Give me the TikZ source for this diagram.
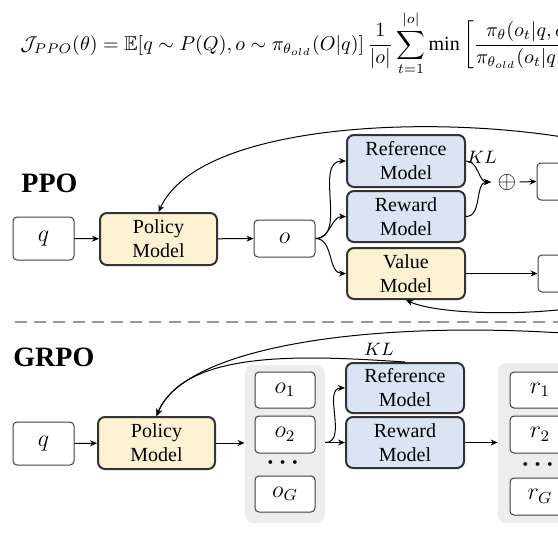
\documentclass[tikz,border=0pt]{standalone}
\usepackage{amsmath,amssymb}
\usepackage{fontspec}
\setmainfont{Liberation Serif}
\usetikzlibrary{arrows.meta}
\definecolor{blueM}{RGB}{218,228,242}
\definecolor{yellowM}{RGB}{252,241,208}
\definecolor{grpgray}{RGB}{237,237,237}
\definecolor{edge}{RGB}{50,50,55}
\tikzset{
  plainbox/.style={draw=black!75, fill=white, rounded corners=2pt, line width=0.5pt, inner sep=0pt, font=\fontsize{11.5}{14}\selectfont},
  modelbox/.style={draw=edge, rounded corners=3.5pt, line width=1pt, align=center, inner sep=0pt, font=\fontsize{10}{12}\selectfont, minimum width=59pt},
  bluebox/.style={modelbox, fill=blueM},
  yellowbox/.style={modelbox, fill=yellowM},
  grpbox/.style={fill=grpgray, rounded corners=4pt, inner sep=0pt},
  arr/.style={-{Stealth[length=3.5pt,width=3pt]}, line width=0.5pt, black},
  title/.style={font=\fontsize{14}{16}\selectfont\bfseries, anchor=west, inner sep=0pt},
  lbl/.style={font=\fontsize{9.5}{11}\selectfont, inner sep=0pt},
  dotsnode/.style={inner sep=0pt, font=\fontsize{13}{14}\selectfont\boldmath}
}
\begin{document}
\begin{tikzpicture}[x=0.5pt,y=-0.5pt]
\useasboundingbox (0,0) rectangle (558,558);
\clip (0,0) rectangle (558,558);

% equation (cut at the right edge, as in the reference)
\node[anchor=base west, inner sep=0pt, font=\fontsize{10}{12}\selectfont] (eq) at (20,50)
 {$\displaystyle \mathcal{J}_{PPO}(\theta) = \mathbb{E}[q \sim P(Q), o \sim \pi_{\theta_{old}}(O|q)]\, \frac{1}{|o|}\sum_{t=1}^{|o|} \min\left[\frac{\pi_\theta(o_t|q,o_{<t})}{\pi_{\theta_{old}}(o_t|q,o_{<t})}\right.$};

% ===== PPO =====
\node[title] (ppo) at (21,183) {PPO};
\node[plainbox, minimum width=30.5pt, minimum height=21.5pt] (qP) at (43.5,238.5) {$q$};
\node[yellowbox, minimum width=58.5pt, minimum height=26pt] (polP) at (158.5,239) {Policy\\Model};
\node[plainbox, minimum width=30.5pt, minimum height=18.5pt] (oP) at (284.5,238.5) {$o$};
\node[bluebox, minimum height=26pt] (refP) at (406,161) {Reference\\Model};
\node[bluebox, minimum height=25.5pt] (rewP) at (406,216.5) {Reward\\Model};
\node[yellowbox, minimum height=25.5pt] (valP) at (406,273.5) {Value\\Model};
\coordinate (jn) at (491,182);
\node[inner sep=0pt, font=\fontsize{12}{14}\selectfont] (plus) at (507,182) {$\oplus$};
\node[plainbox, minimum width=31.5pt, minimum height=18.5pt] (boxA) at (568.5,181.5) {};
\node[plainbox, minimum width=31.5pt, minimum height=18.5pt] (boxB) at (569.5,273.5) {};
\coordinate (topstart) at (590,142);
\coordinate (botstart) at (620,298);

\draw[arr] (qP) -- (polP);
\draw[arr] (polP) -- (oP);
\draw[arr] (oP.east) to[out=0,in=180] (refP.west);
\draw[arr] (oP.east) to[out=0,in=180] (rewP.west);
\draw[arr] (oP.east) to[out=0,in=180] (valP.west);
\draw[arr] (refP.east) to[out=0,in=180] (jn);
\draw[arr] (rewP.east) to[out=0,in=180] (jn);
\node[lbl] (klP) at (482,157) {$KL$};
\draw[arr] (plus.east) ++(3,0) -- (boxA.west);
\draw[arr] (valP.east) -- (boxB.west |- valP.east);
\draw[arr] (topstart) .. controls (450,113) and (200,120) .. (polP.north);
\draw[arr] (botstart) .. controls (560,318) and (440,316) .. (valP.south);

% divider
\draw[gray!80, line width=1.3pt, dash pattern=on 6pt off 3.6pt] (15,322) -- (558,322);

% ===== GRPO =====
\node[title] (grpo) at (13,357) {GRPO};
\node[plainbox, minimum width=30.5pt, minimum height=21.5pt] (qG) at (43.5,443.5) {$q$};
\node[yellowbox, minimum width=58.5pt, minimum height=26pt] (polG) at (156.5,443) {Policy\\Model};
\node[grpbox, minimum width=40pt, minimum height=79pt] (grpO) at (285,444) {};
\node[plainbox, minimum width=30pt, minimum height=18pt] (o1) at (285,390) {$o_1$};
\node[plainbox, minimum width=30pt, minimum height=18.5pt] (o2) at (285,434.5) {$o_2$};
\node[dotsnode] (dO) at (285,463) {$\cdots$};
\node[plainbox, minimum width=30pt, minimum height=18pt] (oG) at (285,494) {$o_G$};
\node[bluebox, minimum height=25pt] (refG) at (405,388) {Reference\\Model};
\node[bluebox, minimum height=25.5pt] (rewG) at (405,442.5) {Reward\\Model};
\node[grpbox, minimum width=42pt, minimum height=80pt] (grpR) at (540,443) {};
\node[plainbox, minimum width=30pt, minimum height=18pt] (r1) at (540,390) {$r_1$};
\node[plainbox, minimum width=30pt, minimum height=18.5pt] (r2) at (540,434.5) {$r_2$};
\node[dotsnode] (dR) at (540,465) {$\cdots$};
\node[plainbox, minimum width=30pt, minimum height=18.5pt] (rG) at (540,496.5) {$r_G$};
\coordinate (gtop) at (590,335);

\draw[arr] (qG) -- (polG);
\draw[arr] (polG.east) -- (grpO.west |- polG.east);
\draw[arr] (grpO.east |- rewG.west) -- (rewG.west);
\draw[arr] (grpO.east |- rewG.west) to[out=0,in=180] (refG.west);
\draw[arr] (rewG.east) -- (grpR.west |- rewG.east);
\draw[arr] (gtop) .. controls (380,318) and (185,345) .. (polG.north);
\draw[arr] (refG.north) .. controls (300,355) and (185,350) .. (polG.north);
\node[lbl] (klG) at (379,349) {$KL$};
\end{tikzpicture}
\end{document}
